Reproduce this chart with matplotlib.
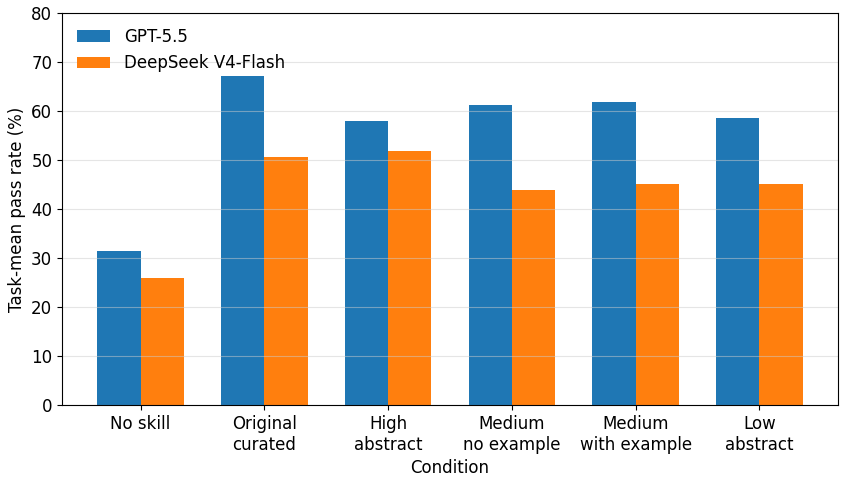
import matplotlib
matplotlib.use("Agg")
import matplotlib.pyplot as plt
import numpy as np

conditions = ["No skill", "Original\ncurated", "High\nabstract", "Medium\nno example", "Medium\nwith example", "Low\nabstract"]
gpt = [31.4, 67.1, 58.0, 61.2, 61.8, 58.6]
deepseek = [25.9, 50.6, 51.8, 43.9, 45.1, 45.1]
series_names = ["GPT-5.5", "DeepSeek V4-Flash"]

plt.rcParams['font.size'] = 12
fig = plt.figure(figsize=(8.47, 4.79), dpi=100)
ax = fig.add_axes([62/847, 1-405/479, (838-62)/847, (405-13)/479])
x = np.arange(len(conditions))
w = 0.35
ax.bar(x - w/2, gpt, w, label=series_names[0], color="#1f77b4", zorder=2)
ax.bar(x + w/2, deepseek, w, label=series_names[1], color="#ff7f0e", zorder=2)
ax.set_xticks(x)
ax.set_xticklabels(conditions)
ax.set_ylim(0, 80)
ax.set_ylabel("Task-mean pass rate (%)")
ax.set_xlabel("Condition")
ax.yaxis.grid(True, color="#cccccc", alpha=0.5, zorder=3)
ax.set_axisbelow(False)
for s in ax.spines.values():
    s.set_zorder(5)
ax.legend(loc="upper left", frameon=False)
fig.savefig("out.png", dpi=100)
